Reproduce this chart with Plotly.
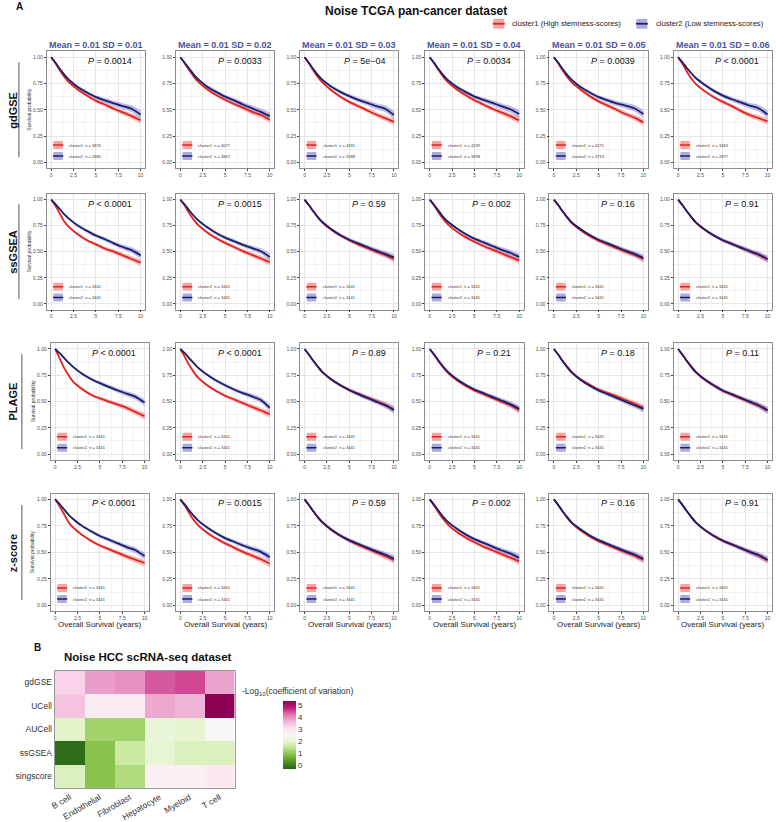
import plotly.graph_objects as go

# ---------------- data ----------------
T = [0, 0.5, 1, 1.5, 2, 3, 4, 5, 6, 7, 8, 9, 10]

methods = ["gdGSE", "ssGSEA", "PLAGE", "z-score"]
sd_labels = ["Mean = 0.01 SD = 0.01", "Mean = 0.01 SD = 0.02", "Mean = 0.01 SD = 0.03",
             "Mean = 0.01 SD = 0.04", "Mean = 0.01 SD = 0.05", "Mean = 0.01 SD = 0.06"]

p_values = [
    ["= 0.0014", "= 0.0033", "= 5e\u221204", "= 0.0034", "= 0.0039", "< 0.0001"],
    ["< 0.0001", "= 0.0015", "= 0.59", "= 0.002", "= 0.16", "= 0.91"],
    ["< 0.0001", "< 0.0001", "= 0.89", "= 0.21", "= 0.18", "= 0.11"],
    ["< 0.0001", "= 0.0015", "= 0.59", "= 0.002", "= 0.16", "= 0.91"],
]

n_cluster1 = [
    ["3870", "4077", "4331", "4239", "4271", "3463"],
    ["3441"] * 6, ["3441"] * 6, ["3441"] * 6,
]
n_cluster2 = [
    ["2880", "3847", "3588", "3998", "3713", "2877"],
    ["3441"] * 6, ["3441"] * 6, ["3441"] * 6,
]

gdgse_c1 = [
    [1, .94, .87, .81, .76, .69, .635, .585, .55, .51, .475, .44, .40],
    [1, .94, .875, .815, .765, .695, .64, .595, .555, .52, .48, .45, .405],
    [1, .94, .87, .81, .76, .685, .625, .575, .535, .495, .455, .42, .385],
    [1, .94, .875, .815, .765, .695, .64, .59, .55, .51, .475, .44, .40],
    [1, .94, .87, .81, .76, .69, .63, .58, .54, .50, .46, .425, .38],
    [1, .935, .86, .795, .745, .675, .62, .575, .535, .49, .45, .42, .39],
]
gdgse_c2 = [
    [1, .945, .885, .83, .785, .715, .665, .62, .59, .56, .535, .51, .455],
    [1, .945, .89, .835, .79, .72, .67, .625, .59, .55, .515, .48, .44],
    [1, .945, .885, .83, .785, .72, .67, .63, .595, .565, .535, .51, .45],
    [1, .945, .885, .83, .785, .72, .67, .625, .595, .565, .535, .505, .46],
    [1, .945, .885, .83, .785, .715, .665, .62, .59, .56, .54, .515, .46],
    [1, .95, .895, .845, .80, .735, .68, .635, .60, .57, .54, .515, .455],
]
ssgsea_c1 = [
    [1, .935, .86, .785, .735, .665, .61, .57, .53, .50, .465, .43, .395],
    [1, .94, .87, .805, .755, .685, .63, .585, .545, .505, .47, .435, .40],
    [1, .945, .885, .83, .78, .71, .655, .61, .57, .535, .50, .47, .43],
    [1, .94, .875, .815, .765, .695, .64, .595, .555, .52, .485, .45, .415],
    [1, .945, .88, .825, .775, .705, .65, .605, .57, .535, .50, .47, .43],
    [1, .945, .885, .83, .78, .71, .655, .61, .575, .54, .505, .47, .425],
]
ssgsea_c2 = [
    [1, .955, .905, .855, .815, .75, .70, .655, .62, .58, .545, .515, .465],
    [1, .95, .895, .845, .80, .735, .68, .635, .60, .565, .535, .505, .45],
    [1, .945, .885, .83, .785, .715, .66, .615, .58, .545, .51, .48, .445],
    [1, .948, .89, .835, .79, .725, .67, .625, .59, .555, .52, .49, .45],
    [1, .945, .885, .83, .78, .715, .66, .615, .58, .545, .51, .48, .44],
    [1, .945, .885, .83, .78, .71, .655, .61, .575, .54, .505, .475, .43],
]
plage_c1 = [
    [1, .91, .82, .75, .69, .62, .565, .53, .50, .47, .44, .40, .36],
    [1, .925, .845, .78, .725, .655, .60, .555, .52, .485, .45, .415, .38],
    [1, .945, .885, .83, .78, .71, .655, .61, .575, .54, .505, .47, .425],
    [1, .94, .88, .825, .775, .705, .65, .605, .57, .535, .50, .465, .42],
    [1, .945, .885, .83, .78, .71, .66, .615, .58, .55, .515, .48, .44],
    [1, .94, .88, .825, .775, .705, .65, .60, .565, .53, .495, .46, .42],
]
plage_c2 = [
    [1, .96, .915, .87, .83, .765, .715, .675, .64, .605, .575, .545, .49],
    [1, .96, .91, .865, .82, .755, .70, .655, .615, .58, .55, .515, .44],
    [1, .945, .885, .83, .78, .71, .655, .61, .57, .535, .50, .465, .42],
    [1, .948, .888, .833, .785, .715, .66, .615, .58, .545, .51, .475, .43],
    [1, .945, .88, .825, .775, .705, .65, .605, .57, .535, .50, .465, .43],
    [1, .945, .885, .83, .78, .71, .655, .605, .57, .535, .50, .465, .415],
]
zscore_c1 = [
    [1, .935, .86, .785, .735, .665, .61, .565, .53, .495, .46, .43, .40],
    [1, .94, .87, .805, .755, .685, .63, .585, .545, .505, .47, .435, .395],
    [1, .945, .885, .83, .78, .71, .655, .61, .57, .535, .50, .465, .43],
    [1, .94, .875, .815, .765, .695, .64, .595, .555, .52, .485, .45, .415],
    [1, .945, .88, .825, .775, .705, .65, .605, .57, .535, .50, .47, .43],
    [1, .945, .885, .83, .78, .71, .655, .61, .575, .54, .505, .47, .425],
]
zscore_c2 = [
    [1, .955, .905, .855, .815, .75, .70, .655, .62, .585, .55, .52, .465],
    [1, .95, .895, .845, .80, .735, .68, .635, .60, .565, .535, .505, .455],
    [1, .945, .885, .83, .785, .715, .66, .615, .58, .545, .51, .48, .44],
    [1, .948, .89, .835, .79, .725, .67, .625, .59, .555, .52, .49, .45],
    [1, .945, .885, .83, .78, .715, .66, .615, .58, .545, .51, .48, .44],
    [1, .945, .885, .83, .78, .71, .655, .61, .575, .54, .505, .475, .43],
]
curves_c1 = [gdgse_c1, ssgsea_c1, plage_c1, zscore_c1]
curves_c2 = [gdgse_c2, ssgsea_c2, plage_c2, zscore_c2]

# half-width of the confidence band at each time point
ci_cluster1 = [0, .005, .008, .010, .011, .013, .015, .017, .019, .021, .024, .027, .033]
ci_cluster2 = [0, .006, .009, .011, .013, .015, .017, .019, .022, .025, .028, .032, .038]

# heatmap
hm_methods = ["gdGSE", "UCell", "AUCell", "ssGSEA", "singscore"]
cell_types = ["B cell", "Endothelial", "Fibroblast", "Hepatocyte", "Myeloid", "T cell"]
hm_gdgse = [3.3, 3.9, 4.0, 4.45, 4.55, 3.85]
hm_ucell = [3.5, 2.85, 2.85, 3.8, 3.7, 5.4]
hm_aucell = [1.9, 1.15, 1.15, 2.1, 1.95, 2.5]
hm_ssgsea = [-0.25, 0.9, 1.6, 2.0, 1.8, 1.8]
hm_singscore = [1.8, 0.9, 1.3, 2.7, 2.7, 2.9]
hm_values = [hm_gdgse, hm_ucell, hm_aucell, hm_ssgsea, hm_singscore]

# ---------------- styling / layout ----------------
W, H = 776, 822
FONT = "Liberation Sans, Arial, sans-serif"
RED, BLUE = "#E2231F", "#1B1E6E"
RED_FILL, BLUE_FILL = "rgba(240,110,110,0.45)", "rgba(110,110,205,0.45)"
RED_SQ, BLUE_SQ = "#F5A3A3", "#ABABDD"

col_left = [42, 172, 297, 423, 548, 673]
row_top = [52, 196, 347, 499]
row_bot = [170, 313, 465, 618]
panel_w = 99


def px(p):
    return p / W


def py(p):
    return 1 - p / H


def pann(x, y, text, size, color="#111", xanchor="center", angle=0):
    return dict(x=px(x), y=py(y), xref="paper", yref="paper", xanchor=xanchor, yanchor="middle",
                text=text, textangle=angle, showarrow=False,
                font=dict(size=size, color=color, family=FONT))


fig = go.Figure()
layout = {}
shapes = []
annotations = []

for r in range(4):
    for c in range(6):
        k = r * 6 + c + 1
        xs = "x" if k == 1 else f"x{k}"
        ys = "y" if k == 1 else f"y{k}"
        xa = "xaxis" if k == 1 else f"xaxis{k}"
        ya = "yaxis" if k == 1 else f"yaxis{k}"
        left = col_left[c] + (4 if (c == 0 and r >= 2) else 0)
        layout[xa] = dict(
            domain=[px(left), px(left + panel_w)], range=[-0.5, 10.5], anchor=ys,
            tickvals=[0, 2.5, 5, 7.5, 10], ticktext=["0", "2.5", "5", "7.5", "10"],
            showgrid=True, gridcolor="#e6e6e6", gridwidth=0.7,
            minor=dict(tickvals=[1.25, 3.75, 6.25, 8.75], showgrid=True,
                       gridcolor="#f3f3f3", gridwidth=0.5),
            showline=True, mirror=True, linecolor="#8c8c8c", linewidth=0.8,
            ticks="outside", ticklen=2, tickcolor="#444", tickwidth=0.6,
            tickfont=dict(size=5, color="#4d4d4d", family=FONT), zeroline=False,
            fixedrange=True,
        )
        layout[ya] = dict(
            domain=[py(row_bot[r]), py(row_top[r])], range=[-0.055, 1.055], anchor=xs,
            tickvals=[0, 0.25, 0.5, 0.75, 1], ticktext=["0.00", "0.25", "0.50", "0.75", "1.00"],
            showgrid=True, gridcolor="#e6e6e6", gridwidth=0.7,
            minor=dict(tickvals=[0.125, 0.375, 0.625, 0.875], showgrid=True,
                       gridcolor="#f3f3f3", gridwidth=0.5),
            showline=True, mirror=True, linecolor="#8c8c8c", linewidth=0.8,
            ticks="outside", ticklen=2, tickcolor="#444", tickwidth=0.6,
            tickfont=dict(size=5, color="#4d4d4d", family=FONT), zeroline=False,
            fixedrange=True,
        )

        series = [(curves_c1[r][c], ci_cluster1, RED, RED_FILL),
                  (curves_c2[r][c], ci_cluster2 if r == 0 else ci_cluster1, BLUE, BLUE_FILL)]
        for surv, ci, lc, fc in series:
            lo = [max(s - h, 0) for s, h in zip(surv, ci)]
            hi = [min(s + h, 1) for s, h in zip(surv, ci)]
            fig.add_trace(go.Scatter(x=T, y=lo, mode="lines", line=dict(width=0, shape="spline", smoothing=0.6),
                                     xaxis=xs, yaxis=ys, showlegend=False, hoverinfo="skip"))
            fig.add_trace(go.Scatter(x=T, y=hi, mode="lines", fill="tonexty", fillcolor=fc,
                                     line=dict(width=0, shape="spline", smoothing=0.6),
                                     xaxis=xs, yaxis=ys, showlegend=False, hoverinfo="skip"))
        for surv, ci, lc, fc in series:
            fig.add_trace(go.Scatter(x=T, y=surv, mode="lines",
                                     line=dict(color=lc, width=1.8, shape="spline", smoothing=0.6),
                                     xaxis=xs, yaxis=ys, showlegend=False))

        # p-value
        annotations.append(dict(x=9.3, y=0.962, xref=xs, yref=ys, xanchor="right", yanchor="middle",
                                text=f"<i>P</i> {p_values[r][c]}", showarrow=False,
                                font=dict(size=9, color="#111", family=FONT)))
        # in-panel legend
        for yy, sq, lc, lab, n in [(0.165, RED_SQ, RED, "cluster1", n_cluster1[r][c]),
                                   (0.06, BLUE_SQ, BLUE, "cluster2", n_cluster2[r][c])]:
            shapes.append(dict(type="rect", xref=xs, yref=ys, x0=0.25, x1=1.3, y0=yy - 0.038, y1=yy + 0.038,
                               fillcolor=sq, line=dict(width=0), layer="above"))
            shapes.append(dict(type="line", xref=xs, yref=ys, x0=0.2, x1=1.35, y0=yy, y1=yy,
                               line=dict(color=lc, width=1.5), layer="above"))
            annotations.append(dict(x=1.8, y=yy, xref=xs, yref=ys, xanchor="left", yanchor="middle",
                                    text=f"{lab}  n = {n}", showarrow=False,
                                    font=dict(size=4, color="#333", family=FONT)))
        # axis titles
        cx = left + panel_w / 2
        cy = (row_top[r] + row_bot[r]) / 2
        if c == 0:
            annotations.append(pann(left - 18, cy, "Survival probability", 5, "#333", angle=-90))
        if r == 3:
            annotations.append(pann(cx, 631, "Overall Survival (years)", 8, "#222"))
        if r == 0:
            annotations.append(pann(cx, 45, f"<b>{sd_labels[c]}</b>", 9, "#4A52A0"))

# row labels with vertical rule
line_x = [14, 14, 17, 17]
for r in range(4):
    cy = (row_top[r] + row_bot[r]) / 2
    annotations.append(pann(8, cy, f"<b>{methods[r]}</b>", 11, "#111", angle=-90))
    shapes.append(dict(type="line", xref="paper", yref="paper", x0=px(line_x[r]), x1=px(line_x[r]),
                       y0=py(cy - 48), y1=py(cy + 48), line=dict(color="#555", width=1)))

# titles and top legend
annotations += [
    pann(15, 7, "<b>A</b>", 10),
    pann(414, 11, "<b>Noise TCGA pan-cancer dataset</b>", 12),
    pann(508, 24, "cluster1 (High stemness-scores)", 7.6, "#222", xanchor="left"),
    pann(653, 24, "cluster2 (Low stemness-scores)", 7.6, "#222", xanchor="left"),
]
for cxp, sq, lc in [(497, RED_SQ, RED), (641, BLUE_SQ, BLUE)]:
    shapes.append(dict(type="rect", xref="paper", yref="paper", x0=px(cxp - 5.5), x1=px(cxp + 5.5),
                       y0=py(29), y1=py(19), fillcolor=sq, line=dict(width=0)))
    shapes.append(dict(type="line", xref="paper", yref="paper", x0=px(cxp - 6), x1=px(cxp + 6),
                       y0=py(24), y1=py(24), line=dict(color=lc, width=1.8)))

# ---------------- heatmap ----------------
piyg = [[0.0, "#276419"], [0.1, "#4d9221"], [0.2, "#7fbc41"], [0.3, "#b8e186"], [0.4, "#e6f5d0"],
        [0.5, "#f7f7f7"], [0.6, "#fde0ef"], [0.7, "#f1b6da"], [0.8, "#de77ae"], [0.9, "#c51b7d"],
        [1.0, "#8e0152"]]
fig.add_trace(go.Heatmap(
    z=hm_values, x=cell_types, y=hm_methods, xaxis="x25", yaxis="y25",
    colorscale=piyg, zmin=-0.35, zmax=5.4, xgap=0, ygap=0,
    colorbar=dict(x=px(280), xanchor="left", y=py(743), yanchor="middle", len=68, lenmode="pixels",
                  thickness=13, outlinewidth=0, tickvals=[0, 1, 2, 3, 4, 5], ticks="",
                  tickfont=dict(size=8, color="#333", family=FONT), xpad=0, ypad=0),
))
layout["xaxis25"] = dict(domain=[px(50), px(231)], anchor="y25", tickangle=-30, showline=True, mirror=True,
                         linecolor="#999", linewidth=1, ticks="", tickfont=dict(size=8.5, color="#333", family=FONT),
                         showgrid=False, zeroline=False, fixedrange=True)
layout["yaxis25"] = dict(domain=[py(797), py(678)], anchor="x25", autorange="reversed", showline=True,
                         mirror=True, linecolor="#999", linewidth=1, ticks="",
                         tickfont=dict(size=8.5, color="#333", family=FONT),
                         showgrid=False, zeroline=False, fixedrange=True)
annotations += [
    pann(33, 655, "<b>B</b>", 10),
    pann(144, 664, "<b>Noise HCC scRNA-seq dataset</b>", 11.5),
    pann(237, 699, "-Log<sub>10</sub>(coefficient of variation)", 8.5, "#333", xanchor="left"),
]

fig.update_layout(width=W, height=H, margin=dict(l=0, r=0, t=0, b=0), plot_bgcolor="white",
                  paper_bgcolor="white", showlegend=False, shapes=shapes, annotations=annotations,
                  font=dict(family=FONT), **layout)
fig.write_html("out.html", config={"displayModeBar": False})
